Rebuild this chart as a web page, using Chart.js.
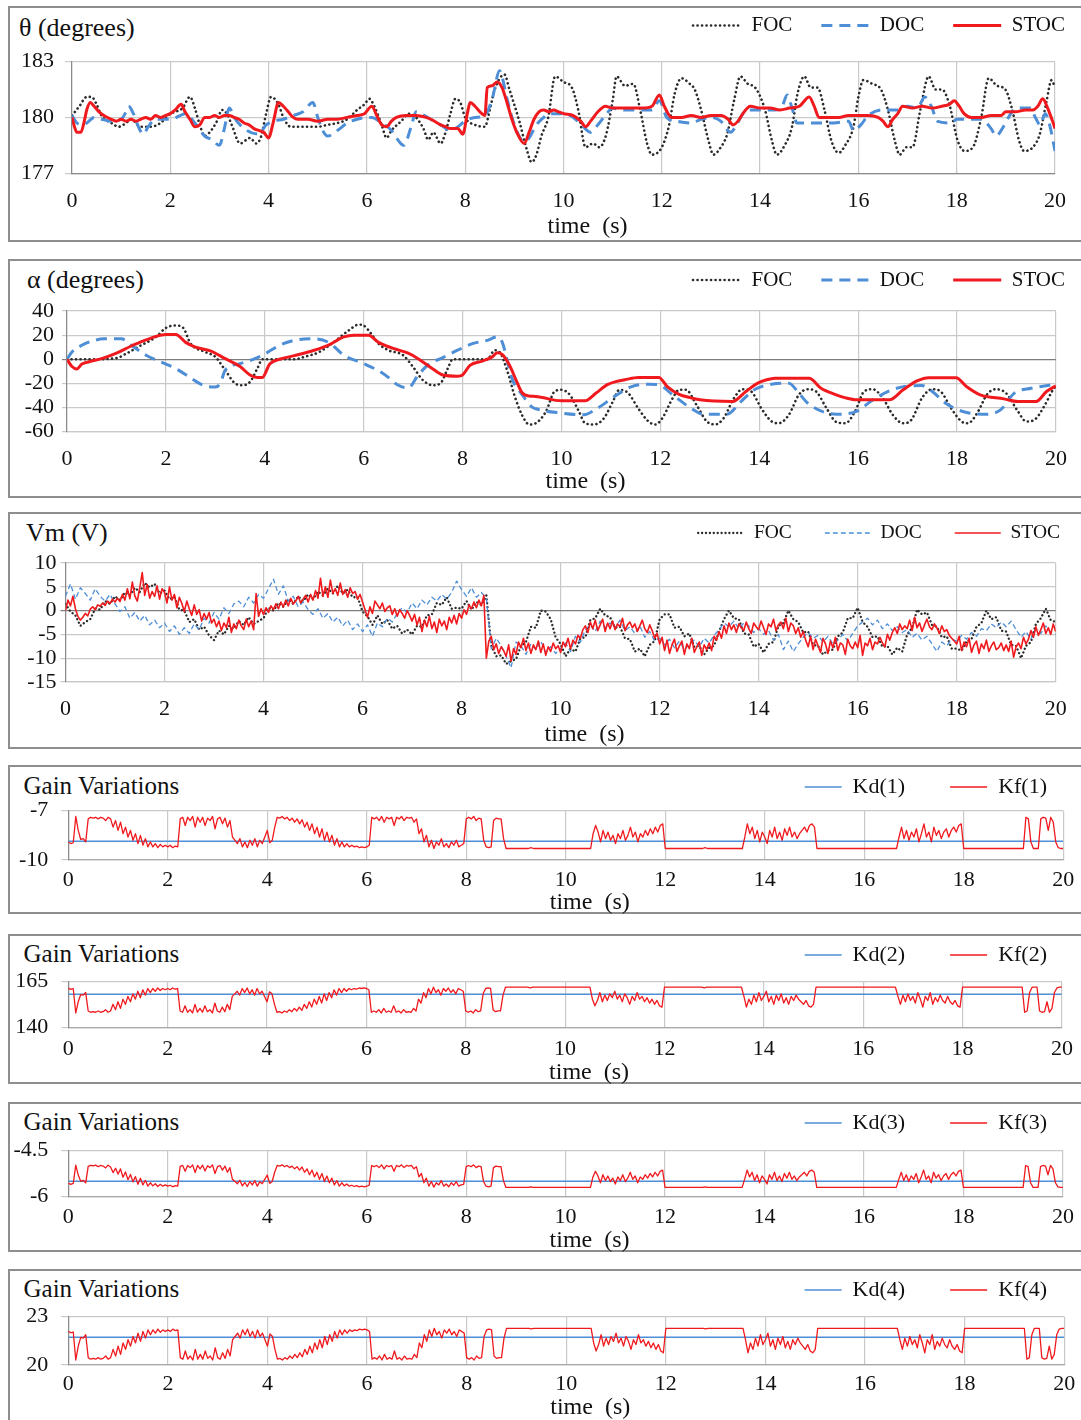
<!DOCTYPE html>
<html>
<head>
<meta charset="utf-8">
<script src="https://cdn.jsdelivr.net/npm/chart.js@4.4.1/dist/chart.umd.min.js"></script>
<style>
  html, body { margin: 0; padding: 0; background: #fff; }
  body { width: 1081px; height: 1420px; position: relative; overflow: hidden;
         font-family: 'Liberation Serif', 'Times New Roman', serif; }
  .frame { position: absolute; left: 8px; width: 1100px; border: 2px solid #8e8e8e; box-sizing: border-box; }
  .head { position: absolute; white-space: nowrap; color: #111; line-height: 1; }
  canvas { position: absolute; left: 0; }
</style>
</head>
<body>
<script>
// ---------- pendulum angle theta (deg): [time s, value] ----------
const thetaFOC = [[0,180.1],[0.15,180.6],[0.3,181.1],[0.4,181.1],[0.5,180.7],[0.6,180.1],[0.8,179.7],[0.95,179.5],[1.1,179.7],[1.2,179.9],[1.4,179.5],[1.6,179.5],[1.8,179.7],[2.0,180.2],[2.1,180.3],[2.25,180.5],[2.4,181.1],[2.5,180.5],[2.6,179.6],[2.7,179.0],[2.8,179.2],[2.95,179.8],[3.05,180.4],[3.15,180.2],[3.25,179.6],[3.42,178.6],[3.55,178.8],[3.62,178.9],[3.75,178.6],[3.85,179.0],[3.95,180.2],[4.05,181.1],[4.2,180.7],[4.3,180.0],[4.45,179.5],[4.6,179.5],[5.0,179.5],[5.2,179.6],[5.4,179.7],[5.6,179.9],[5.8,180.4],[5.95,180.7],[6.05,181.0],[6.15,180.6],[6.3,179.6],[6.4,178.9],[6.5,179.3],[6.7,179.8],[6.85,180.2],[7.0,180.0],[7.15,179.4],[7.25,178.8],[7.35,179.2],[7.5,178.6],[7.6,179.2],[7.7,180.2],[7.8,181.0],[7.9,180.8],[8.0,180.0],[8.2,179.6],[8.4,179.5],[8.5,180.4],[8.6,181.5],[8.8,182.3],[8.9,181.5],[9.1,179.8],[9.25,178.3],[9.35,177.6],[9.45,178.0],[9.55,179.0],[9.69,180.0],[9.83,182.2],[10.0,181.9],[10.17,181.6],[10.3,180.4],[10.45,178.4],[10.6,178.6],[10.73,178.4],[10.87,179.1],[11.0,180.9],[11.08,182.2],[11.25,181.7],[11.42,181.8],[11.56,180.4],[11.7,178.6],[11.8,178.0],[12.0,178.4],[12.15,179.6],[12.26,181.25],[12.4,182.1],[12.57,181.8],[12.67,181.5],[12.8,180.4],[12.95,178.75],[13.05,178.0],[13.2,178.4],[13.33,179.1],[13.47,180.9],[13.6,182.2],[13.75,181.8],[13.9,181.6],[14.1,180.4],[14.24,178.75],[14.34,178.0],[14.5,178.5],[14.65,179.5],[14.76,181.25],[14.9,182.2],[15.03,181.6],[15.17,181.6],[15.31,180.4],[15.45,178.75],[15.6,178.1],[15.73,178.5],[15.9,179.5],[16.0,181.1],[16.1,182.0],[16.28,181.8],[16.46,181.5],[16.6,180.4],[16.74,178.75],[16.84,178.0],[16.98,178.4],[17.1,178.4],[17.26,180.4],[17.43,182.2],[17.57,181.5],[17.7,181.5],[17.85,180.7],[18.02,178.75],[18.16,178.2],[18.33,178.4],[18.5,180.0],[18.65,182.1],[18.82,181.7],[18.99,181.5],[19.13,180.4],[19.27,178.75],[19.37,178.2],[19.55,178.4],[19.69,179.1],[19.83,180.9],[19.93,182.0],[20.0,181.6]];
const thetaDOC = [[0,180.1],[0.1,179.7],[0.2,179.6],[0.3,179.7],[0.45,180.0],[0.6,179.9],[0.8,179.8],[1.0,179.9],[1.1,180.3],[1.15,180.6],[1.25,180.2],[1.35,179.5],[1.45,179.1],[1.55,179.5],[1.7,179.9],[2.0,179.9],[2.2,180.1],[2.3,180.2],[2.5,179.7],[2.7,179.0],[2.85,178.8],[3.0,178.5],[3.1,179.4],[3.2,180.5],[3.3,180.0],[3.5,179.4],[3.8,179.1],[3.95,179.6],[4.1,179.8],[4.3,179.9],[4.5,180.1],[4.7,180.3],[4.9,180.8],[5.0,180.0],[5.1,179.3],[5.2,179.0],[5.4,179.3],[5.6,179.7],[5.8,179.9],[6.0,180.0],[6.1,180.0],[6.3,179.7],[6.5,179.3],[6.6,178.9],[6.75,178.5],[6.9,179.5],[7.0,180.3],[7.1,180.2],[7.3,179.9],[7.5,179.6],[7.7,179.3],[7.8,179.4],[8.0,179.8],[8.2,180.0],[8.4,180.1],[8.55,181.0],[8.7,182.5],[8.85,181.0],[9.0,179.6],[9.2,178.7],[9.3,178.9],[9.45,179.6],[9.6,180.0],[9.7,180.2],[10.0,180.2],[10.2,180.0],[10.4,179.5],[10.55,179.2],[10.7,179.6],[10.85,180.1],[11.0,180.5],[11.2,180.4],[11.5,180.4],[11.8,180.4],[11.95,180.9],[12.1,180.0],[12.3,179.8],[12.6,179.7],[12.8,179.9],[13.0,180.0],[13.2,179.8],[13.4,179.2],[13.5,179.5],[13.65,180.2],[13.8,180.4],[14.1,180.4],[14.3,180.4],[14.45,180.6],[14.55,181.2],[14.65,180.5],[14.75,179.7],[15.0,179.7],[15.3,179.7],[15.5,179.7],[15.8,179.8],[15.9,179.3],[16.05,179.6],[16.2,180.1],[16.5,180.4],[16.8,180.4],[17.0,180.6],[17.2,180.5],[17.35,181.1],[17.5,180.5],[17.6,179.8],[17.9,179.7],[18.0,179.9],[18.2,179.9],[18.5,179.9],[18.7,179.4],[18.8,179.0],[18.95,179.5],[19.1,180.2],[19.2,180.5],[19.5,180.5],[19.6,180.0],[19.7,179.6],[19.8,180.2],[19.9,179.5],[20.0,178.2]];
const thetaSTOC = [[0,180.0],[0.05,179.5],[0.1,179.2],[0.18,179.2],[0.25,179.8],[0.3,180.4],[0.37,180.8],[0.45,180.6],[0.55,180.3],[0.65,180.1],[0.8,179.9],[0.9,179.8],[1.0,179.9],[1.1,179.8],[1.2,179.9],[1.3,179.8],[1.4,179.9],[1.5,180.0],[1.6,179.9],[1.7,180.1],[1.8,180.0],[1.9,180.1],[2.0,180.2],[2.1,180.4],[2.22,180.7],[2.3,180.3],[2.4,179.9],[2.5,179.5],[2.6,179.6],[2.7,180.0],[2.8,180.0],[2.9,180.1],[3.0,180.0],[3.1,180.1],[3.2,180.1],[3.3,180.0],[3.4,179.9],[3.5,179.7],[3.6,179.6],[3.7,179.4],[3.8,179.3],[3.9,179.2],[4.0,178.9],[4.1,179.8],[4.2,180.8],[4.3,180.6],[4.4,180.3],[4.5,180.0],[4.6,179.9],[4.8,179.9],[5.0,179.8],[5.2,179.9],[5.4,179.9],[5.6,180.0],[5.8,180.1],[5.95,180.2],[6.1,180.6],[6.2,180.1],[6.3,179.6],[6.4,179.5],[6.5,179.8],[6.6,180.0],[6.8,180.1],[7.0,180.1],[7.2,180.0],[7.3,179.9],[7.5,179.6],[7.6,179.5],[7.7,179.4],[7.85,179.4],[7.95,179.1],[8.05,180.3],[8.1,180.8],[8.2,180.6],[8.3,180.3],[8.4,180.1],[8.45,181.6],[8.55,181.7],[8.65,181.9],[8.75,181.6],[8.85,180.8],[8.95,179.9],[9.05,179.2],[9.2,178.6],[9.3,179.2],[9.4,179.9],[9.5,180.3],[9.6,180.4],[9.7,180.3],[9.8,180.4],[9.9,180.3],[10.0,180.2],[10.2,180.1],[10.35,179.8],[10.45,179.5],[10.55,179.8],[10.7,180.3],[10.85,180.6],[11.0,180.5],[11.2,180.5],[11.4,180.5],[11.6,180.5],[11.8,180.6],[11.95,181.2],[12.05,180.6],[12.2,180.0],[12.4,180.0],[12.6,180.1],[12.8,180.0],[13.0,180.1],[13.2,180.1],[13.35,179.9],[13.45,179.6],[13.55,179.8],[13.65,180.2],[13.8,180.6],[14.0,180.5],[14.2,180.5],[14.4,180.4],[14.6,180.5],[14.8,180.6],[15.0,181.1],[15.1,180.6],[15.2,180.0],[15.4,180.0],[15.6,180.0],[15.8,180.1],[16.0,180.1],[16.2,180.1],[16.4,180.0],[16.5,179.8],[16.6,179.5],[16.7,179.9],[16.8,180.2],[16.9,180.6],[17.1,180.5],[17.3,180.6],[17.5,180.5],[17.7,180.6],[17.85,180.7],[17.95,180.9],[18.05,180.6],[18.15,180.2],[18.3,180.0],[18.5,180.0],[18.7,180.1],[18.9,180.1],[19.0,180.3],[19.2,180.3],[19.4,180.4],[19.55,180.4],[19.65,180.6],[19.75,181.0],[19.85,180.5],[19.95,179.8],[20.0,179.4]];

// ---------- arm angle alpha (deg): [time s, value] ----------
const alphaFOC = [[0,0],[0.5,0],[1.0,1],[1.2,4.7],[1.5,11.6],[1.8,18.5],[2.0,26],[2.2,28],[2.35,26],[2.5,13],[2.8,6],[3.0,2],[3.2,-9],[3.4,-20],[3.55,-21.5],[3.7,-18.8],[3.85,-7.7],[3.95,0],[4.6,0],[4.8,2],[5.1,6],[5.4,14.4],[5.7,24],[5.9,28.7],[6.0,28],[6.15,21.3],[6.3,13],[6.5,7.5],[6.8,3.3],[7.0,-6.4],[7.2,-17.4],[7.4,-21.5],[7.55,-20],[7.7,-7.7],[7.8,0],[8.5,0],[8.65,7.5],[8.75,6],[8.9,-9],[9.05,-30],[9.2,-46],[9.35,-54],[9.48,-53],[9.69,-43],[9.86,-26.7],[10.0,-25.3],[10.17,-29.5],[10.35,-43],[10.48,-53],[10.66,-54],[10.86,-48.8],[11.04,-35],[11.17,-25.3],[11.35,-28],[11.55,-40.5],[11.76,-51.5],[11.9,-54],[12.04,-48.8],[12.25,-32.2],[12.38,-25.3],[12.52,-25.3],[12.73,-37.7],[12.94,-51.5],[13.11,-54],[13.28,-48.8],[13.49,-32.2],[13.66,-24.8],[13.84,-26.7],[14.04,-40.5],[14.25,-51.5],[14.39,-53],[14.6,-46],[14.8,-29.5],[14.98,-24.8],[15.15,-26.7],[15.36,-40.5],[15.56,-52],[15.74,-53],[15.94,-43],[16.12,-26.7],[16.29,-24.8],[16.5,-32.2],[16.7,-46],[16.91,-53],[17.08,-50],[17.29,-32.2],[17.5,-24.8],[17.67,-26.7],[17.88,-40.5],[18.09,-51.5],[18.22,-53],[18.43,-43],[18.6,-29.5],[18.78,-24.8],[18.99,-28],[19.23,-43],[19.4,-51.5],[19.57,-50],[19.78,-37.7],[19.92,-26.7],[20,-22]];
const alphaDOC = [[0,0],[0.1,6],[0.3,11.6],[0.5,15],[0.75,17],[1.1,17],[1.3,11.6],[1.6,3.3],[1.9,-2.2],[2.2,-7.7],[2.5,-15.5],[2.75,-21.5],[3.0,-23],[3.1,-20],[3.2,-9],[3.5,-3.6],[3.8,0.5],[4.0,4.4],[4.3,11.6],[4.6,15.7],[5.0,17],[5.3,13.8],[5.6,3.3],[6.0,-3.6],[6.4,-11.9],[6.7,-21.5],[6.9,-23.8],[7.1,-13.3],[7.3,-4.7],[7.6,1.4],[7.9,7.5],[8.2,13],[8.5,15.7],[8.7,18.5],[8.8,14.4],[9.0,-16],[9.2,-29],[9.4,-39.5],[9.48,-41],[10.0,-44.6],[10.45,-46],[10.73,-40.5],[11.07,-30.9],[11.42,-22.6],[11.76,-20.7],[11.97,-21.2],[12.25,-29.5],[12.6,-40],[12.87,-45.5],[13.35,-45.5],[13.63,-35],[13.9,-25.3],[14.25,-20.7],[14.6,-19.8],[14.8,-28],[15.0,-37],[15.56,-45.5],[15.98,-43],[16.25,-35],[16.6,-26.7],[16.94,-22.6],[17.29,-21.8],[17.5,-26.7],[17.77,-36.4],[18.12,-43.3],[18.6,-45.5],[18.88,-41.9],[19.16,-28],[19.5,-24],[20,-20.7]];
const alphaSTOC = [[0,0],[0.1,-6],[0.2,-8],[0.3,-4],[0.45,-2],[0.7,0.5],[1.0,5],[1.3,11],[1.6,16],[1.8,19],[2.0,20.5],[2.2,20.5],[2.4,14],[2.6,10],[2.9,7],[3.2,0.5],[3.5,-6],[3.7,-13],[3.85,-15],[3.95,-15],[4.1,-4],[4.3,0],[4.6,3],[5.0,7.5],[5.3,12],[5.6,18.5],[5.8,20],[6.1,20],[6.3,14],[6.6,9],[6.9,5],[7.1,0.5],[7.4,-8],[7.6,-13],[7.9,-14],[8.0,-13],[8.15,-5],[8.4,-1.5],[8.6,2],[8.7,5.5],[8.8,4],[8.95,-5],[9.1,-19],[9.2,-27.5],[9.35,-30.5],[9.48,-30.8],[10.0,-34.4],[10.48,-34.4],[10.7,-28],[10.93,-21],[11.1,-18.5],[11.28,-17],[11.55,-15],[11.97,-15],[12.14,-22.6],[12.38,-29],[12.6,-31.8],[12.8,-33.6],[13.46,-35],[13.73,-26.7],[13.97,-19.8],[14.15,-17],[14.32,-15.7],[15.01,-15.7],[15.25,-24],[15.53,-29],[15.75,-32],[15.98,-33.6],[16.63,-33.6],[16.91,-25.3],[17.19,-17.9],[17.43,-15.2],[17.98,-15.2],[18.19,-22.6],[18.47,-29.5],[18.95,-32.8],[19.23,-35],[19.6,-35],[19.81,-26.7],[20,-22]];

// ---------- motor voltage Vm (V), sampled on a regular time grid ----------
const vmFocStep = 0.1;
const vmFOC = [
  1.4,-0.2,-1.0,-3.2,-2.4,-1.8,0.4,0.2,2.0,1.4,
  3.0,2.2,3.8,3.2,4.8,3.9,5.8,4.9,5.6,3.6,
  4.2,2.4,2.8,0.2,0.0,-2.4,-1.8,-4.0,-3.4,-5.2,
  -6.2,-4.2,-5.0,-3.2,-3.8,-2.2,-3.0,-1.4,-2.8,-2.2,
  -1.6,0.6,0.0,1.6,0.8,2.4,1.4,3.0,2.0,3.4,
  2.4,4.0,3.2,4.6,3.6,5.2,3.6,4.4,2.8,2.8,
  -0.2,-1.2,-3.0,-1.0,-2.8,-2.0,-3.8,-3.2,-4.8,-4.0,
  -5.0,-3.2,-3.4,-1.0,-0.8,1.6,1.2,2.8,0.4,0.6,
  0.4,2.0,0.2,1.8,1.2,3.2,-7.4,-9.6,-9.4,-11.2,
  -10.6,-10.2,-7.4,-6.6,-3.4,-3.6,0.0,-0.2,-1.8,-5.6,
  -7.0,-9.6,-8.0,-8.6,-5.8,-5.6,-2.0,-1.6,0.4,-1.0,
  -1.4,-3.6,-3.4,-5.8,-6.0,-8.6,-8.0,-9.6,-7.2,-6.4,
  -1.8,-0.8,-0.8,-3.6,-3.4,-5.4,-4.8,-7.6,-7.4,-9.2,
  -7.8,-7.4,-4.4,-1.8,0.0,-1.6,-1.8,-4.8,-5.0,-7.6,
  -7.0,-8.8,-7.0,-6.6,-3.2,-2.6,0.0,-1.8,-2.4,-4.6,
  -4.4,-7.2,-7.4,-9.2,-8.4,-8.2,-5.4,-4.6,-1.6,-1.6,
  0.6,-2.4,-3.4,-5.6,-5.4,-7.6,-7.4,-9.2,-7.8,-8.6,
  -5.0,-3.6,0.2,-0.8,-0.4,-3.0,-3.4,-5.6,-5.4,-8.0,
  -8.0,-8.4,-6.4,-6.0,-3.4,-2.6,0.0,-1.8,-1.4,-4.2,
  -4.4,-7.2,-7.4,-10.0,-7.4,-6.6,-2.8,-1.6,0.4,-2.0,
  -2.4
];
const vmDocStep = 0.1;
const vmDOC = [
  3.0,5.6,2.4,4.8,3.6,2.2,4.6,3.0,2.0,3.4,
  1.4,-0.2,0.8,-1.6,-0.4,-2.2,-1.0,-3.0,-2.0,-3.6,
  -2.6,-4.4,-3.2,-5.0,-3.6,-4.8,-2.8,-4.0,-1.6,-2.6,
  -0.4,-1.8,0.6,-0.6,1.4,2.0,0.8,2.8,1.6,3.4,
  2.6,4.6,6.6,3.4,5.2,2.0,3.0,0.8,1.8,0.2,
  -0.8,0.4,-1.6,-0.6,-2.4,-1.4,-3.2,-2.0,-4.0,-2.8,
  -4.4,-3.0,-5.4,-2.6,-3.4,-1.6,-2.4,-0.6,0.6,-0.4,
  1.6,0.4,2.2,1.2,2.8,2.0,3.4,2.4,3.8,6.2,
  4.4,3.0,4.8,2.8,3.8,2.6,-8.0,-5.8,-7.4,-9.6,
  -12.0,-6.6,-7.4,-9.2,-7.0,-8.2,-6.4,-8.8,-7.6,-9.0,
  -8.0,-6.8,-8.6,-5.4,-6.6,-4.0,-3.0,-4.4,-2.2,-3.6,
  -2.6,-3.8,-2.0,-4.2,-3.4,-4.8,-3.2,-5.6,-4.4,-6.4,
  -5.8,-7.2,-6.0,-7.8,-6.4,-8.2,-7.0,-6.2,-7.6,-5.8,
  -6.8,-5.2,-4.0,-2.6,-3.4,-2.2,-3.8,-2.6,-3.2,-4.6,
  -3.8,-5.0,-4.2,-6.2,-5.0,-8.2,-6.4,-8.6,-7.0,-5.6,
  -4.6,-5.8,-5.2,-6.6,-5.4,-7.0,-6.2,-5.0,-6.4,-4.8,
  -3.2,-2.4,-1.6,-3.0,-2.0,-3.8,-2.8,-4.2,-3.4,-4.6,
  -4.0,-5.6,-4.8,-6.2,-5.4,-7.0,-8.6,-6.6,-7.4,-6.0,
  -6.4,-5.2,-6.0,-4.6,-5.4,-3.8,-4.2,-2.8,-3.6,-2.4,
  -3.4,-2.2,-4.0,-5.6,-4.4,-6.0,-3.8,-4.8,-3.2,-4.6,
  -5.0
];
const vmStocStep = 0.05;
const vmSTOC = [
  0.0,2.2,1.0,3.0,0.4,-1.2,-2.0,-1.4,-0.6,-1.1,0.3,0.8,0.2,1.2,0.9,1.6,1.1,2.0,1.5,2.4,
  1.8,2.6,1.9,3.4,2.2,4.6,2.5,6.0,3.1,2.0,4.8,8.0,3.2,5.5,2.6,4.0,3.0,5.2,2.4,4.6,
  3.8,1.6,5.0,2.2,3.4,0.6,2.8,1.5,-0.2,2.0,0.4,-1.0,1.2,-0.8,0.2,-2.2,-0.6,-1.8,-0.4,-2.6,
  -1.8,-3.4,-2.2,-4.2,-2.6,-3.6,-1.4,-4.6,-2.8,-3.8,-2.0,-3.2,-4.0,-1.8,-3.4,-2.2,-4.0,3.6,-1.2,0.4,
  -0.8,0.6,-0.4,1.0,0.2,1.4,0.4,1.8,0.8,2.2,1.0,2.6,1.4,2.0,3.0,1.6,2.4,3.2,1.8,3.4,
  2.2,4.2,2.6,6.8,3.0,5.0,2.8,6.4,3.6,4.6,3.2,5.8,3.4,4.4,2.8,4.8,3.6,4.0,2.4,3.4,
  1.8,0.2,-1.4,0.8,-0.6,2.0,1.2,0.4,1.6,-0.2,0.6,1.0,-0.8,0.4,-1.2,0.2,-0.6,-1.6,0.0,-1.0,
  -2.2,-0.8,-3.0,-1.4,-4.4,-2.0,-3.4,-1.2,-3.8,-2.4,-4.6,-1.8,-3.2,-2.2,-4.0,-1.4,-2.6,-1.0,-2.8,-0.6,
  -1.6,0.2,-0.8,1.2,0.4,1.8,0.6,2.2,1.0,3.2,-10.0,-6.4,-5.4,-8.2,-7.0,-9.0,-7.6,-8.4,-9.6,-7.2,
  -10.6,-8.0,-9.2,-6.6,-7.8,-5.8,-8.4,-6.8,-9.0,-7.2,-8.2,-6.4,-8.8,-7.0,-9.4,-7.6,-8.6,-6.8,-8.0,-7.4,
  -8.8,-6.6,-7.6,-5.8,-8.0,-6.2,-7.0,-5.2,-5.8,-4.0,-3.2,-4.6,-2.4,-3.8,-2.0,-4.2,-3.0,-1.8,-4.4,-2.6,
  -3.8,-2.2,-4.0,-2.8,-3.4,-1.6,-4.2,-3.0,-2.4,-3.6,-2.8,-4.4,-3.2,-2.0,-3.8,-4.6,-3.0,-4.2,-5.8,-4.8,
  -7.0,-5.6,-8.4,-6.2,-9.0,-7.2,-6.0,-8.6,-7.4,-6.4,-9.2,-7.0,-8.0,-5.8,-8.8,-7.6,-6.6,-9.4,-7.2,-8.2,
  -6.8,-8.4,-5.4,-6.2,-4.4,-5.8,-3.2,-4.8,-2.6,-4.0,-3.0,-4.6,-2.8,-3.6,-4.2,-2.4,-3.8,-4.8,-2.6,-3.4,
  -4.0,-2.2,-3.6,-5.0,-2.8,-3.4,-1.8,-4.2,-3.0,-2.4,-3.8,-1.6,-4.4,-2.6,-3.2,-4.8,-3.6,-5.6,-4.4,-6.2,
  -7.6,-5.4,-8.2,-6.0,-7.4,-8.8,-5.8,-7.0,-9.0,-6.4,-7.8,-5.6,-8.4,-6.8,-7.2,-9.2,-6.0,-7.4,-8.0,-6.6,
  -7.8,-5.2,-9.4,-6.8,-7.4,-5.8,-8.2,-6.6,-7.0,-5.6,-6.8,-7.6,-5.0,-6.2,-4.6,-3.6,-4.8,-2.8,-4.0,-3.2,
  -3.8,-2.0,-4.2,-1.4,-3.6,-2.6,-4.4,-3.0,-1.8,-3.4,-4.0,-2.8,-3.6,-4.8,-3.2,-4.4,-4.0,-5.2,-5.8,-6.4,
  -7.0,-5.4,-8.4,-6.6,-7.6,-5.8,-8.8,-7.2,-6.4,-9.0,-7.0,-8.0,-6.2,-8.6,-7.4,-6.6,-8.2,-7.8,-6.8,-8.4,
  -7.2,-8.6,-6.4,-9.8,-7.6,-6.8,-8.0,-5.6,-7.0,-6.0,-4.2,-5.6,-3.4,-5.2,-4.0,-2.6,-4.8,-3.6,-5.0,-2.8,
  -4.4
];

// ---------- controller gains: fixed Kd(i) and scheduled Kf(i), 0.05 s grid ----------
const gainStep = 0.05;
const kd1 = -8.86, kd2 = 158.2, kd3 = -5.5, kd4 = 21.72;
const kf1 = [
  -8.9,-9.0,-8.95,-7.35,-8.2,-8.75,-8.7,-8.9,-7.5,-7.4,-7.45,-7.4,-7.5,-7.4,-7.45,-7.6,-7.4,-7.5,-8.0,-7.6,
  -8.2,-7.7,-8.4,-8.0,-8.6,-8.2,-8.8,-8.4,-9.0,-8.5,-9.1,-8.7,-9.2,-8.9,-9.2,-9.0,-9.25,-9.05,-9.2,-9.1,
  -9.2,-9.1,-9.25,-9.15,-9.2,-7.5,-7.4,-7.9,-7.4,-7.6,-7.35,-8.0,-7.4,-7.7,-7.4,-7.9,-7.45,-7.6,-7.35,-8.1,
  -7.5,-7.4,-7.8,-7.45,-8.0,-7.6,-8.6,-8.8,-9.0,-8.7,-9.2,-8.9,-9.25,-8.8,-9.1,-8.7,-9.2,-8.8,-9.0,-8.6,
  -8.2,-8.95,-8.8,-8.0,-7.4,-7.45,-7.35,-7.5,-7.4,-7.6,-7.45,-7.7,-7.5,-7.8,-7.55,-8.0,-7.7,-8.2,-7.8,-8.4,
  -8.0,-8.6,-8.1,-8.8,-8.3,-8.9,-8.5,-9.1,-8.7,-9.2,-8.9,-9.2,-9.0,-9.2,-9.1,-9.2,-9.15,-9.25,-9.2,-9.25,
  -9.2,-9.1,-7.4,-7.5,-7.4,-7.6,-7.35,-7.7,-7.4,-7.5,-7.4,-7.9,-7.4,-7.5,-7.35,-7.6,-7.4,-7.45,-7.4,-7.7,
  -7.5,-8.4,-8.1,-8.9,-8.5,-9.2,-8.8,-9.3,-8.9,-9.1,-8.7,-9.2,-9.0,-9.25,-8.9,-9.1,-8.8,-9.2,-9.1,-9.0,
  -7.5,-7.4,-7.5,-7.35,-7.6,-7.45,-7.5,-8.8,-9.2,-9.25,-9.2,-7.6,-7.45,-7.5,-7.5,-8.7,-9.3,-9.3,-9.3,-9.3,
  -9.3,-9.3,-9.3,-9.3,-9.3,-9.3,-9.25,-9.3,-9.3,-9.3,-9.3,-9.3,-9.3,-9.3,-9.3,-9.3,-9.3,-9.3,-9.3,-9.3,
  -9.3,-9.3,-9.3,-9.3,-9.3,-9.3,-9.3,-9.3,-9.3,-9.3,-9.3,-8.4,-7.9,-8.3,-8.9,-8.2,-8.7,-8.3,-8.8,-8.5,
  -9.0,-8.4,-8.7,-8.2,-8.8,-8.5,-8.0,-8.6,-8.3,-8.9,-8.4,-8.6,-8.2,-8.5,-8.1,-8.4,-8.0,-8.3,-7.9,-7.8,
  -9.3,-9.3,-9.3,-9.3,-9.3,-9.3,-9.3,-9.3,-9.3,-9.3,-9.3,-9.3,-9.3,-9.3,-9.3,-9.3,-9.25,-9.3,-9.3,-9.3,
  -9.3,-9.3,-9.3,-9.3,-9.3,-9.3,-9.3,-9.3,-9.3,-9.3,-9.3,-9.3,-8.6,-7.8,-8.4,-8.0,-8.7,-8.2,-8.9,-8.3,
  -8.6,-9.0,-8.2,-8.6,-8.0,-8.7,-8.3,-8.8,-8.1,-8.5,-8.0,-8.6,-8.3,-8.7,-8.4,-8.2,-8.0,-8.3,-7.9,-7.8,
  -8.0,-9.3,-9.3,-9.3,-9.3,-9.3,-9.3,-9.3,-9.3,-9.3,-9.3,-9.3,-9.3,-9.3,-9.3,-9.3,-9.3,-9.3,-9.3,-9.3,
  -9.3,-9.3,-9.3,-9.3,-9.3,-9.3,-9.3,-9.3,-9.3,-9.3,-9.3,-9.3,-9.3,-9.3,-8.6,-8.0,-8.7,-8.2,-8.8,-8.3,
  -8.6,-8.1,-8.9,-8.4,-7.8,-8.6,-8.3,-8.9,-8.0,-8.5,-8.2,-8.7,-8.3,-8.1,-8.6,-8.2,-8.0,-8.3,-7.9,-7.8,
  -9.3,-9.3,-9.3,-9.3,-9.3,-9.3,-9.3,-9.3,-9.3,-9.3,-9.3,-9.3,-9.3,-9.3,-9.3,-9.3,-9.3,-9.3,-9.3,-9.3,
  -9.3,-9.3,-9.3,-9.3,-9.3,-7.4,-7.5,-8.9,-9.3,-9.3,-9.3,-7.5,-7.4,-7.45,-8.2,-7.4,-7.7,-8.9,-9.25,-9.3,
  -9.3
];
const kf2 = [
  161.5,160.8,161.2,148.0,154.1,158.0,157.7,159.1,149.1,148.4,148.7,148.4,149.1,148.4,148.7,149.8,148.4,149.1,152.7,149.8,
  154.1,150.5,155.5,152.7,157.0,154.1,158.4,155.5,159.8,156.3,160.6,157.7,161.3,159.1,161.3,159.8,161.6,160.2,161.3,160.6,
  161.3,160.6,161.6,160.9,161.3,149.1,148.4,151.9,148.4,149.8,148.0,152.7,148.4,150.5,148.4,151.9,148.7,149.8,148.0,153.4,
  149.1,148.4,151.2,148.7,152.7,149.8,157.0,158.4,159.8,157.7,161.3,159.1,161.6,158.4,160.6,157.7,161.3,158.4,159.8,157.0,
  154.1,159.5,158.4,152.7,148.4,148.7,148.0,149.1,148.4,149.8,148.7,150.5,149.1,151.2,149.4,152.7,150.5,154.1,151.2,155.5,
  152.7,157.0,153.4,158.4,154.8,159.1,156.3,160.6,157.7,161.3,159.1,161.3,159.8,161.3,160.6,161.3,160.9,161.6,161.3,161.6,
  161.3,160.6,148.4,149.1,148.4,149.8,148.0,150.5,148.4,149.1,148.4,151.9,148.4,149.1,148.0,149.8,148.4,148.7,148.4,150.5,
  149.1,155.5,153.4,159.1,156.3,161.3,158.4,162.0,159.1,160.6,157.7,161.3,159.8,161.6,159.1,160.6,158.4,161.3,160.6,159.8,
  149.1,148.4,149.1,148.0,149.8,148.7,149.1,158.4,161.3,161.6,161.3,149.8,148.7,149.1,149.1,157.7,162.0,162.0,162.0,162.0,
  162.0,162.0,162.0,162.0,162.0,162.0,161.7,162.0,162.0,162.0,162.0,162.0,162.0,162.0,162.0,162.0,162.0,162.0,162.0,162.0,
  162.0,162.0,162.0,162.0,162.0,162.0,162.0,162.0,162.0,162.0,162.0,155.5,151.9,154.8,159.1,154.1,157.7,154.8,158.4,156.3,
  159.8,155.5,157.7,154.1,158.4,156.3,152.7,157.0,154.8,159.1,155.5,157.0,154.1,156.3,153.4,155.5,152.7,154.8,151.9,151.2,
  162.0,162.0,162.0,162.0,162.0,162.0,162.0,162.0,162.0,162.0,162.0,162.0,162.0,162.0,162.0,162.0,161.7,162.0,162.0,162.0,
  162.0,162.0,162.0,162.0,162.0,162.0,162.0,162.0,162.0,162.0,162.0,162.0,157.0,151.2,155.5,152.7,157.7,154.1,159.1,154.8,
  157.0,159.8,154.1,157.0,152.7,157.7,154.8,158.4,153.4,156.3,152.7,157.0,154.8,157.7,155.5,154.1,152.7,154.8,151.9,151.2,
  152.7,162.0,162.0,162.0,162.0,162.0,162.0,162.0,162.0,162.0,162.0,162.0,162.0,162.0,162.0,162.0,162.0,162.0,162.0,162.0,
  162.0,162.0,162.0,162.0,162.0,162.0,162.0,162.0,162.0,162.0,162.0,162.0,162.0,162.0,157.0,152.7,157.7,154.1,158.4,154.8,
  157.0,153.4,159.1,155.5,151.2,157.0,154.8,159.1,152.7,156.3,154.1,157.7,154.8,153.4,157.0,154.1,152.7,154.8,151.9,151.2,
  162.0,162.0,162.0,162.0,162.0,162.0,162.0,162.0,162.0,162.0,162.0,162.0,162.0,162.0,162.0,162.0,162.0,162.0,162.0,162.0,
  162.0,162.0,162.0,162.0,162.0,148.4,149.1,159.1,162.0,162.0,162.0,149.1,148.4,148.7,154.1,148.4,150.5,159.1,161.6,162.0,
  162.0
];
const kf3 = [
  -5.56,-5.6,-5.57,-4.98,-5.3,-5.5,-5.47,-5.55,-5.02,-4.99,-5.0,-4.98,-5.03,-4.99,-5.01,-5.07,-4.98,-5.04,-5.22,-5.08,
  -5.27,-5.1,-5.37,-5.2,-5.45,-5.28,-5.52,-5.35,-5.6,-5.4,-5.62,-5.47,-5.66,-5.55,-5.65,-5.58,-5.67,-5.6,-5.66,-5.62,
  -5.66,-5.63,-5.68,-5.64,-5.66,-5.02,-4.99,-5.18,-4.99,-5.06,-4.97,-5.22,-4.99,-5.1,-4.98,-5.17,-5.0,-5.06,-4.97,-5.25,
  -5.03,-4.99,-5.14,-5.01,-5.21,-5.06,-5.44,-5.5,-5.58,-5.47,-5.65,-5.54,-5.67,-5.51,-5.62,-5.48,-5.66,-5.52,-5.58,-5.44,
  -5.3,-5.57,-5.51,-5.21,-4.99,-5.01,-4.97,-5.03,-4.99,-5.06,-5.01,-5.1,-5.03,-5.14,-5.04,-5.21,-5.1,-5.29,-5.14,-5.36,
  -5.21,-5.44,-5.25,-5.51,-5.33,-5.55,-5.4,-5.62,-5.48,-5.66,-5.55,-5.65,-5.59,-5.66,-5.63,-5.67,-5.64,-5.68,-5.66,-5.68,
  -5.66,-5.63,-4.99,-5.03,-4.99,-5.06,-4.97,-5.1,-4.99,-5.03,-4.99,-5.18,-4.99,-5.03,-4.97,-5.06,-4.99,-5.01,-4.99,-5.1,
  -5.03,-5.36,-5.25,-5.55,-5.4,-5.66,-5.51,-5.69,-5.55,-5.62,-5.48,-5.66,-5.59,-5.68,-5.55,-5.63,-5.51,-5.66,-5.62,-5.6,
  -5.03,-4.99,-5.03,-4.97,-5.06,-5.01,-5.03,-5.51,-5.66,-5.68,-5.66,-5.06,-5.01,-5.03,-5.03,-5.48,-5.7,-5.7,-5.7,-5.7,
  -5.7,-5.7,-5.7,-5.7,-5.7,-5.7,-5.68,-5.7,-5.7,-5.7,-5.7,-5.7,-5.7,-5.7,-5.7,-5.7,-5.7,-5.7,-5.7,-5.7,
  -5.7,-5.7,-5.7,-5.7,-5.7,-5.7,-5.7,-5.7,-5.7,-5.7,-5.7,-5.36,-5.18,-5.33,-5.55,-5.29,-5.48,-5.33,-5.51,-5.4,
  -5.59,-5.36,-5.48,-5.29,-5.51,-5.4,-5.21,-5.44,-5.33,-5.55,-5.36,-5.44,-5.29,-5.4,-5.25,-5.36,-5.21,-5.33,-5.18,-5.14,
  -5.7,-5.7,-5.7,-5.7,-5.7,-5.7,-5.7,-5.7,-5.7,-5.7,-5.7,-5.7,-5.7,-5.7,-5.7,-5.7,-5.68,-5.7,-5.7,-5.7,
  -5.7,-5.7,-5.7,-5.7,-5.7,-5.7,-5.7,-5.7,-5.7,-5.7,-5.7,-5.7,-5.44,-5.14,-5.36,-5.21,-5.48,-5.29,-5.55,-5.33,
  -5.44,-5.59,-5.29,-5.44,-5.21,-5.48,-5.33,-5.51,-5.25,-5.4,-5.21,-5.44,-5.33,-5.48,-5.36,-5.29,-5.21,-5.33,-5.18,-5.14,
  -5.21,-5.7,-5.7,-5.7,-5.7,-5.7,-5.7,-5.7,-5.7,-5.7,-5.7,-5.7,-5.7,-5.7,-5.7,-5.7,-5.7,-5.7,-5.7,-5.7,
  -5.7,-5.7,-5.7,-5.7,-5.7,-5.7,-5.7,-5.7,-5.7,-5.7,-5.7,-5.7,-5.7,-5.7,-5.44,-5.21,-5.48,-5.29,-5.51,-5.33,
  -5.44,-5.25,-5.55,-5.36,-5.14,-5.44,-5.33,-5.55,-5.21,-5.4,-5.29,-5.48,-5.33,-5.25,-5.44,-5.29,-5.21,-5.33,-5.18,-5.14,
  -5.7,-5.7,-5.7,-5.7,-5.7,-5.7,-5.7,-5.7,-5.7,-5.7,-5.7,-5.7,-5.7,-5.7,-5.7,-5.7,-5.7,-5.7,-5.7,-5.7,
  -5.7,-5.7,-5.7,-5.7,-5.7,-4.99,-5.03,-5.55,-5.7,-5.7,-5.7,-5.03,-4.99,-5.01,-5.29,-4.99,-5.1,-5.55,-5.68,-5.7,
  -5.7
];
const kf4 = [
  22.1,22.0,22.05,20.31,21.17,21.72,21.67,21.88,20.46,20.36,20.41,20.36,20.46,20.36,20.41,20.56,20.36,20.46,20.97,20.56,
  21.17,20.66,21.37,20.97,21.57,21.17,21.77,21.37,21.98,21.47,22.08,21.67,22.18,21.88,22.18,21.98,22.23,22.03,22.18,22.08,
  22.18,22.08,22.23,22.13,22.18,20.46,20.36,20.87,20.36,20.56,20.31,20.97,20.36,20.66,20.36,20.87,20.41,20.56,20.31,21.07,
  20.46,20.36,20.76,20.41,20.97,20.56,21.57,21.77,21.98,21.67,22.18,21.88,22.23,21.77,22.08,21.67,22.18,21.77,21.98,21.57,
  21.17,21.93,21.77,20.97,20.36,20.41,20.31,20.46,20.36,20.56,20.41,20.66,20.46,20.76,20.51,20.97,20.66,21.17,20.76,21.37,
  20.97,21.57,21.07,21.77,21.27,21.88,21.47,22.08,21.67,22.18,21.88,22.18,21.98,22.18,22.08,22.18,22.13,22.23,22.18,22.23,
  22.18,22.08,20.36,20.46,20.36,20.56,20.31,20.66,20.36,20.46,20.36,20.87,20.36,20.46,20.31,20.56,20.36,20.41,20.36,20.66,
  20.46,21.37,21.07,21.88,21.47,22.18,21.77,22.28,21.88,22.08,21.67,22.18,21.98,22.23,21.88,22.08,21.77,22.18,22.08,21.98,
  20.46,20.36,20.46,20.31,20.56,20.41,20.46,21.77,22.18,22.23,22.18,20.56,20.41,20.46,20.46,21.67,22.28,22.28,22.28,22.28,
  22.28,22.28,22.28,22.28,22.28,22.28,22.24,22.28,22.28,22.28,22.28,22.28,22.28,22.28,22.28,22.28,22.28,22.28,22.28,22.28,
  22.28,22.28,22.28,22.28,22.28,22.28,22.28,22.28,22.28,22.28,22.28,21.37,20.87,21.27,21.88,21.17,21.67,21.27,21.77,21.47,
  21.98,21.37,21.67,21.17,21.77,21.47,20.97,21.57,21.27,21.88,21.37,21.57,21.17,21.47,21.07,21.37,20.97,21.27,20.87,20.76,
  22.28,22.28,22.28,22.28,22.28,22.28,22.28,22.28,22.28,22.28,22.28,22.28,22.28,22.28,22.28,22.28,22.24,22.28,22.28,22.28,
  22.28,22.28,22.28,22.28,22.28,22.28,22.28,22.28,22.28,22.28,22.28,22.28,21.57,20.76,21.37,20.97,21.67,21.17,21.88,21.27,
  21.57,21.98,21.17,21.57,20.97,21.67,21.27,21.77,21.07,21.47,20.97,21.57,21.27,21.67,21.37,21.17,20.97,21.27,20.87,20.76,
  20.97,22.28,22.28,22.28,22.28,22.28,22.28,22.28,22.28,22.28,22.28,22.28,22.28,22.28,22.28,22.28,22.28,22.28,22.28,22.28,
  22.28,22.28,22.28,22.28,22.28,22.28,22.28,22.28,22.28,22.28,22.28,22.28,22.28,22.28,21.57,20.97,21.67,21.17,21.77,21.27,
  21.57,21.07,21.88,21.37,20.76,21.57,21.27,21.88,20.97,21.47,21.17,21.67,21.27,21.07,21.57,21.17,20.97,21.27,20.87,20.76,
  22.28,22.28,22.28,22.28,22.28,22.28,22.28,22.28,22.28,22.28,22.28,22.28,22.28,22.28,22.28,22.28,22.28,22.28,22.28,22.28,
  22.28,22.28,22.28,22.28,22.28,20.36,20.46,21.88,22.28,22.28,22.28,20.46,20.36,20.41,21.17,20.36,20.66,21.88,22.23,22.28,
  22.28
];

// ---------- axis tick settings ----------
const timeTicks = { min: 0, max: 20, step: 2 };
const thetaTicks = { min: 177, max: 183, step: 3 };
const alphaTicks = { min: -60, max: 40, step: 20 };
const vmTicks = { min: -15, max: 10, step: 5 };
const gainTicks = [
  { min: -10, max: -7, step: 3 },
  { min: 140, max: 165, step: 25 },
  { min: -6, max: -4.5, step: 1.5 },
  { min: 20, max: 23, step: 3 }
];
// axis caption; the leading em spaces set it a little right of the plot centre
const timeCaption = '\u2003\u2003time\u2002(s)';

// ---------- styling ----------
const SERIF = "'Liberation Serif', 'Times New Roman', serif";
const RED = '#f0191d';
const BLUE = '#4d8ed6';
const DARK = '#2b2b2b';
const GRID = '#c9c9c9';
const AXIS = '#8a8a8a';
const INK = '#111';

const pairs = (arr) => arr.map(p => ({ x: p[0], y: p[1] }));
const sampled = (vals, dt) => vals.map((v, i) => ({ x: Math.round(i * dt * 1000) / 1000, y: v }));
const flat = (v) => [{ x: 0, y: v }, { x: 20, y: v }];

// moves the legend row to its own spot while reserving the band above the plot
function legendPlacer(spec) {
  return {
    id: 'legendPlacer',
    beforeLayout(chart) {
      const lg = chart.legend;
      if (!lg || lg.__placed) return;
      const fit = lg.fit;
      lg.fit = function () { fit.call(this); this.height = spec.band; };
      lg.__placed = true;
    },
    afterLayout(chart) {
      const lg = chart.legend;
      if (!lg) return;
      const shift = spec.right + spec.pad - lg.right;
      lg.left += shift;
      lg.right += shift;
      lg.top = spec.cy - spec.pad - spec.fs / 2;
      lg.bottom = lg.top + spec.fs + spec.pad + 10;
    }
  };
}

function buildPanel(p) {
  const frame = document.createElement('div');
  frame.className = 'frame';
  frame.style.top = p.frame[0] + 'px';
  frame.style.height = (p.frame[1] - p.frame[0]) + 'px';
  document.body.appendChild(frame);

  const head = document.createElement('div');
  head.className = 'head';
  head.textContent = p.title;
  head.style.left = p.titleX + 'px';
  head.style.fontSize = p.titleSize + 'px';
  head.style.top = (p.titleY - p.titleSize / 2) + 'px';
  document.body.appendChild(head);

  const top0 = p.frame[0];
  const H = Math.round(p.frame[1] + 12 - top0);
  const canvas = document.createElement('canvas');
  canvas.width = 1081;
  canvas.height = H;
  canvas.style.top = top0 + 'px';
  canvas.style.width = '1081px';
  canvas.style.height = H + 'px';
  document.body.appendChild(canvas);

  const T = p.plot.top - top0;
  const B = p.plot.bottom - top0;
  const xPad = p.xLabelY - p.plot.bottom - 22 * 1.2 / 2;
  const tPad = H - (p.timeY - top0) - 24 * 1.2 / 2;
  const yt = p.yTicks;

  return new Chart(canvas, {
    type: 'line',
    data: { datasets: p.datasets },
    options: {
      responsive: false,
      animation: false,
      devicePixelRatio: 1,
      layout: { padding: { left: 0, top: 0, bottom: 0, right: 1081 - p.plot.right } },
      elements: { point: { radius: 0 }, line: { borderJoinStyle: 'round' } },
      plugins: {
        tooltip: { enabled: false },
        title: { display: false },
        legend: {
          display: true,
          position: 'top',
          align: 'end',
          labels: {
            usePointStyle: true,
            pointStyle: 'line',
            pointStyleWidth: p.legend.box,
            padding: p.legend.pad,
            color: INK,
            font: { family: SERIF, size: p.legend.fs },
            generateLabels(chart) {
              return chart.data.datasets.map((ds, i) => ({
                text: ds.label,
                fillStyle: ds.borderColor,
                strokeStyle: ds.borderColor,
                lineWidth: ds.borderWidth,
                lineDash: ds.borderDash || [],
                lineCap: ds.borderCapStyle || 'butt',
                pointStyle: 'line',
                fontColor: INK,
                hidden: false,
                datasetIndex: i
              }));
            }
          }
        }
      },
      scales: {
        x: {
          type: 'linear',
          min: timeTicks.min,
          max: timeTicks.max,
          ticks: { stepSize: timeTicks.step, color: INK, padding: xPad, maxRotation: 0, autoSkip: false,
                   font: { family: SERIF, size: 22 } },
          grid: { color: GRID, lineWidth: 1.2, drawTicks: false },
          border: { display: true, color: p.xBorder, width: 1.3 },
          title: { display: true, text: timeCaption, color: INK, font: { family: SERIF, size: 24 },
                   padding: { top: 0, bottom: tPad } },
          afterFit(s) { s.height = H - B; }
        },
        y: {
          type: 'linear',
          min: yt.min,
          max: yt.max,
          ticks: { stepSize: yt.step, color: INK, padding: p.yPad, autoSkip: false,
                   font: { family: SERIF, size: 22 } },
          grid: {
            lineWidth: 1.2,
            tickLength: p.yTickLen,
            color: (c) => (p.zeroDark && c.tick && c.tick.value === 0) ? '#7d7d7d' : GRID
          },
          border: { display: true, color: AXIS, width: 1.2 },
          afterFit(s) { s.width = p.plot.left; }
        }
      }
    },
    plugins: [legendPlacer({ band: T, cy: p.legend.cy - top0, right: p.legend.right, pad: p.legend.pad, fs: p.legend.fs })]
  });
}

// ---------- response panels ----------
function responseSets(foc, doc, stoc, thin) {
  return [
    { label: 'FOC', data: foc, borderColor: DARK, borderWidth: thin ? 2.3 : 2.6,
      borderDash: thin ? [0.1, 3.8] : [0.1, 4.4], borderCapStyle: 'round', order: 3,
      cubicInterpolationMode: thin ? 'default' : 'monotone', tension: 0 },
    { label: 'DOC', data: doc, borderColor: BLUE, borderWidth: thin ? 1.3 : 3,
      borderDash: thin ? [5, 3] : [11, 7], order: 2,
      cubicInterpolationMode: thin ? 'default' : 'monotone', tension: 0 },
    { label: 'STOC', data: stoc, borderColor: RED, borderWidth: thin ? 1.6 : 3, order: 1,
      cubicInterpolationMode: thin ? 'default' : 'monotone', tension: 0 }
  ];
}

buildPanel({
  frame: [6, 242], title: 'θ (degrees)', titleX: 19, titleY: 28, titleSize: 26,
  plot: { left: 72, right: 1065, top: 61.5, bottom: 173.3 }, xLabelY: 201.5, timeY: 226.5,
  legend: { cy: 25.5, right: 1065, fs: 21, pad: 29, box: 48 },
  yTicks: thetaTicks, yPad: 11, yTickLen: 7, xBorder: AXIS, zeroDark: false,
  datasets: responseSets(pairs(thetaFOC), pairs(thetaDOC), pairs(thetaSTOC), false)
});

buildPanel({
  frame: [259, 498], title: 'α (degrees)', titleX: 27, titleY: 280, titleSize: 26,
  plot: { left: 67, right: 1065, top: 311, bottom: 431.7 }, xLabelY: 459, timeY: 481.7,
  legend: { cy: 280, right: 1065, fs: 21, pad: 29, box: 48 },
  yTicks: alphaTicks, yPad: 8, yTickLen: 5, xBorder: GRID, zeroDark: true,
  datasets: responseSets(pairs(alphaFOC), pairs(alphaDOC), pairs(alphaSTOC), false)
});

buildPanel({
  frame: [512, 749], title: 'Vm (V)', titleX: 26, titleY: 533, titleSize: 26,
  plot: { left: 65.5, right: 1065, top: 563, bottom: 682 }, xLabelY: 709.5, timeY: 734.5,
  legend: { cy: 533, right: 1060, fs: 19.5, pad: 33, box: 46 },
  yTicks: vmTicks, yPad: 4, yTickLen: 5, xBorder: GRID, zeroDark: true,
  datasets: responseSets(sampled(vmFOC, vmFocStep), sampled(vmDOC, vmDocStep), sampled(vmSTOC, vmStocStep), true)
});

// ---------- gain panels ----------
const gainPanels = [
  { frame: [765, 914], plot: { top: 810.7, bottom: 860 }, xLabelY: 880, timeY: 902.7, cy: 787, kd: kd1, kf: kf1, n: 1 },
  { frame: [934, 1084], plot: { top: 981.7, bottom: 1027.7 }, xLabelY: 1049, timeY: 1072.7, cy: 955, kd: kd2, kf: kf2, n: 2 },
  { frame: [1102, 1252], plot: { top: 1150.3, bottom: 1196.7 }, xLabelY: 1217, timeY: 1240.7, cy: 1123, kd: kd3, kf: kf3, n: 3 },
  { frame: [1269, 1440], plot: { top: 1316.7, bottom: 1365 }, xLabelY: 1384, timeY: 1407.7, cy: 1290, kd: kd4, kf: kf4, n: 4 }
];

gainPanels.forEach((g, i) => {
  buildPanel({
    frame: g.frame, title: 'Gain Variations', titleX: 23.5, titleY: g.cy - 2, titleSize: 25,
    plot: { left: 68.3, right: 1065.5, top: g.plot.top, bottom: g.plot.bottom },
    xLabelY: g.xLabelY, timeY: g.timeY,
    legend: { cy: g.cy, right: 1047, fs: 22, pad: 45, box: 37 },
    yTicks: gainTicks[i], yPad: 13, yTickLen: 7, xBorder: '#a8a8a8', zeroDark: false,
    datasets: [
      { label: 'Kd(' + g.n + ')', data: flat(g.kd), borderColor: BLUE, borderWidth: 1.5, order: 2 },
      { label: 'Kf(' + g.n + ')', data: sampled(g.kf, gainStep), borderColor: RED, borderWidth: 1.3, order: 1 }
    ]
  });
});
</script>
</body>
</html>
